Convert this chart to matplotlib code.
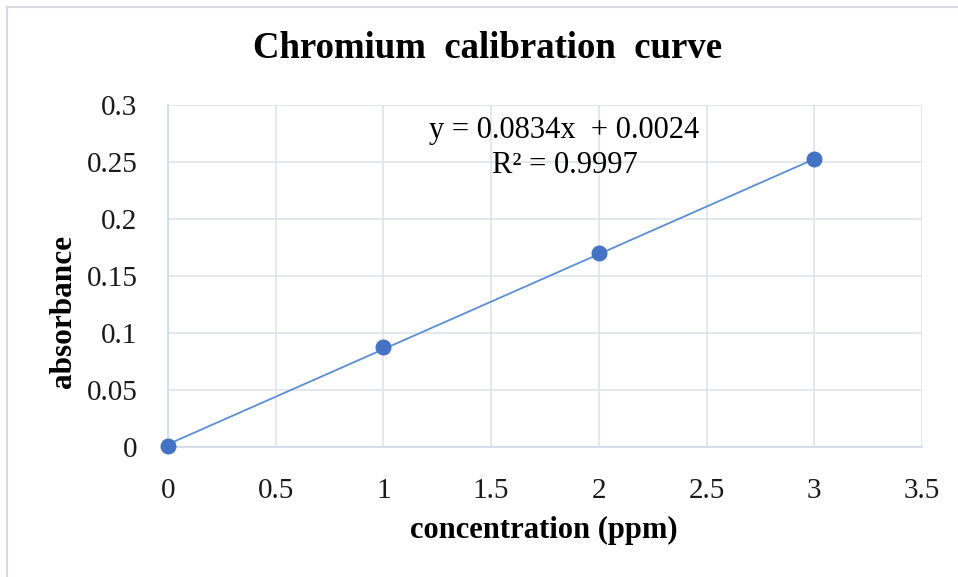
import numpy as np
import matplotlib.pyplot as plt
from matplotlib.lines import Line2D

# data
conc = [0, 1, 2, 3]
absorb = [0.001, 0.088, 0.170, 0.253]
slope = 0.0834
intercept = 0.0024
x_ticks = [0, 0.5, 1, 1.5, 2, 2.5, 3, 3.5]
y_ticks = [0, 0.05, 0.1, 0.15, 0.2, 0.25, 0.3]

plt.rcParams['font.family'] = ['Liberation Serif', 'DejaVu Serif']

fig = plt.figure(figsize=(9.58, 5.77), dpi=100)
ax = fig.add_axes([168/958, 1 - 447/577, (922 - 168)/958, (447 - 105)/577])

# chart frame
fig.add_artist(Line2D([7/958, 1], [1 - 7/577, 1 - 7/577], color='#d9d9e6', lw=1.5))
fig.add_artist(Line2D([7/958, 7/958], [0, 1 - 7/577], color='#d9d9e6', lw=1.5))

# trendline
xl = np.array([conc[0], conc[-1]])
ax.plot(xl, slope*xl + intercept, color='#5b8ed6', lw=1.3, zorder=2)
ax.scatter(conc, absorb, s=110, color='#4472c4', zorder=3, clip_on=False)

ax.set_xlim(0, 3.5)
ax.set_ylim(0, 0.3)
ax.set_xticks(x_ticks)
ax.set_yticks(y_ticks)
ax.set_xticklabels([f'{v:g}' for v in x_ticks])
ax.set_yticklabels([f'{v:g}' for v in y_ticks])
ax.tick_params(length=0, labelsize=21, colors='#1a1a1a')
ax.tick_params(axis='x', pad=22)
ax.tick_params(axis='y', pad=22)
ax.grid(True, color='#e0e3ec', lw=1.2)
ax.set_axisbelow(True)
for s in ['top', 'right']:
    ax.spines[s].set_visible(False)
for s in ['left', 'bottom']:
    ax.spines[s].set_color('#d0d8ea')
    ax.spines[s].set_linewidth(1.2)

ax.text(1.84, 0.278, 'y = 0.0834x  + 0.0024', fontsize=22, ha='center', va='center')
ax.text(1.84, 0.247, 'R² = 0.9997', fontsize=22, ha='center', va='center')

fig.text(488/958, 1 - 49/577, 'Chromium  calibration  curve', fontsize=26.5,
         fontweight='bold', ha='center', va='center')
fig.text(544/958, 1 - 530/577, 'concentration (ppm)', fontsize=22,
         fontweight='bold', ha='center', va='center')
fig.text(64/958, 1 - 312/577, 'absorbance', fontsize=22.5, fontweight='bold',
         ha='center', va='center', rotation=90)

fig.savefig('out.png', dpi=100)
